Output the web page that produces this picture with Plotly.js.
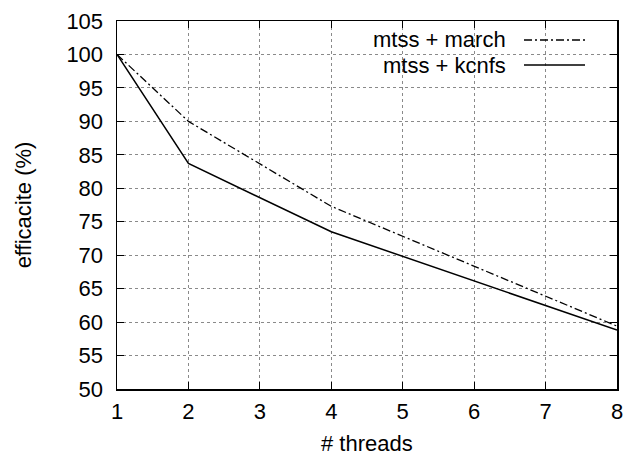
<!DOCTYPE html>
<html>
<head>
<meta charset="utf-8">
<script src="https://cdn.plot.ly/plotly-3.0.1.min.js"></script>
<style>html,body{margin:0;padding:0;background:#fff;}#chart{width:626px;height:457px;}</style>
</head>
<body>
<div id="chart"></div>
<script>
const threads = [1, 2, 4, 8];
const march = [100, 90.0, 77.3, 59.4];
const kcnfs = [100, 83.7, 73.5, 58.8];
const seriesNames = ["mtss + march", "mtss + kcnfs"];
const xTicks = [1, 2, 3, 4, 5, 6, 7, 8];
const yTicks = [50, 55, 60, 65, 70, 75, 80, 85, 90, 95, 100, 105];
const xTitle = "# threads";
const yTitle = "efficacite (%)";

const FONT = "Liberation Sans, Arial, Helvetica, sans-serif";
const DASHDOT = "8px,3px,2px,3px";

const traces = [
  {x: threads, y: march, name: seriesNames[0], mode: "lines",
   line: {color: "#000", width: 1.3, dash: DASHDOT}, showlegend: false},
  {x: threads, y: kcnfs, name: seriesNames[1], mode: "lines",
   line: {color: "#000", width: 1.5}, showlegend: false}
];

const axisCommon = {
  showline: true, linecolor: "#000", linewidth: 1.5, mirror: "allticks",
  ticks: "inside", ticklen: 7, tickcolor: "#000", tickwidth: 1,
  showgrid: true, gridcolor: "#8a8a8a", griddash: "dot", gridwidth: 1,
  zeroline: false, tickfont: {family: FONT, size: 22, color: "#000"}
};

const layout = {
  width: 626, height: 457,
  margin: {l: 117, r: 9, t: 21, b: 68},
  paper_bgcolor: "#fff", plot_bgcolor: "#fff",
  showlegend: false,
  xaxis: Object.assign({}, axisCommon, {
    range: [1, 8], tickvals: xTicks, ticktext: xTicks.map(String),
    ticklabelstandoff: 2
  }),
  yaxis: Object.assign({}, axisCommon, {
    range: [50, 105], tickvals: yTicks, ticktext: yTicks.map(String),
    ticklabelstandoff: 8,
    title: {text: yTitle, font: {family: FONT, size: 22, color: "#000"}, standoff: 28}
  }),
  shapes: [
    {type: "rect", xref: "paper", yref: "paper", layer: "between",
     x0: (343 - 117) / 500, x1: (602 - 117) / 500,
     y0: (389 - 76) / 368, y1: (389 - 22) / 368,
     fillcolor: "#fff", line: {width: 0}},
    {type: "line", xref: "paper", yref: "paper",
     x0: (524 - 117) / 500, x1: (585 - 117) / 500,
     y0: (389 - 40) / 368, y1: (389 - 40) / 368,
     line: {color: "#000", width: 1.3, dash: DASHDOT}},
    {type: "line", xref: "paper", yref: "paper",
     x0: (524 - 117) / 500, x1: (585 - 117) / 500,
     y0: (389 - 65) / 368, y1: (389 - 65) / 368,
     line: {color: "#000", width: 1.5}}
  ],
  annotations: [
    {text: seriesNames[0], xref: "paper", yref: "paper",
     x: (508 - 117) / 500, y: (389 - 40) / 368, xanchor: "right", yanchor: "middle",
     showarrow: false, font: {family: FONT, size: 22, color: "#000"}},
    {text: seriesNames[1], xref: "paper", yref: "paper",
     x: (508 - 117) / 500, y: (389 - 65) / 368, xanchor: "right", yanchor: "middle",
     showarrow: false, font: {family: FONT, size: 22, color: "#000"}},
    {text: xTitle, xref: "paper", yref: "paper",
     x: 0.5, y: (389 - 443) / 368, xanchor: "center", yanchor: "middle",
     showarrow: false, font: {family: FONT, size: 22, color: "#000"}}
  ]
};

Plotly.newPlot("chart", traces, layout, {displayModeBar: false, staticPlot: true});
</script>
</body>
</html>
